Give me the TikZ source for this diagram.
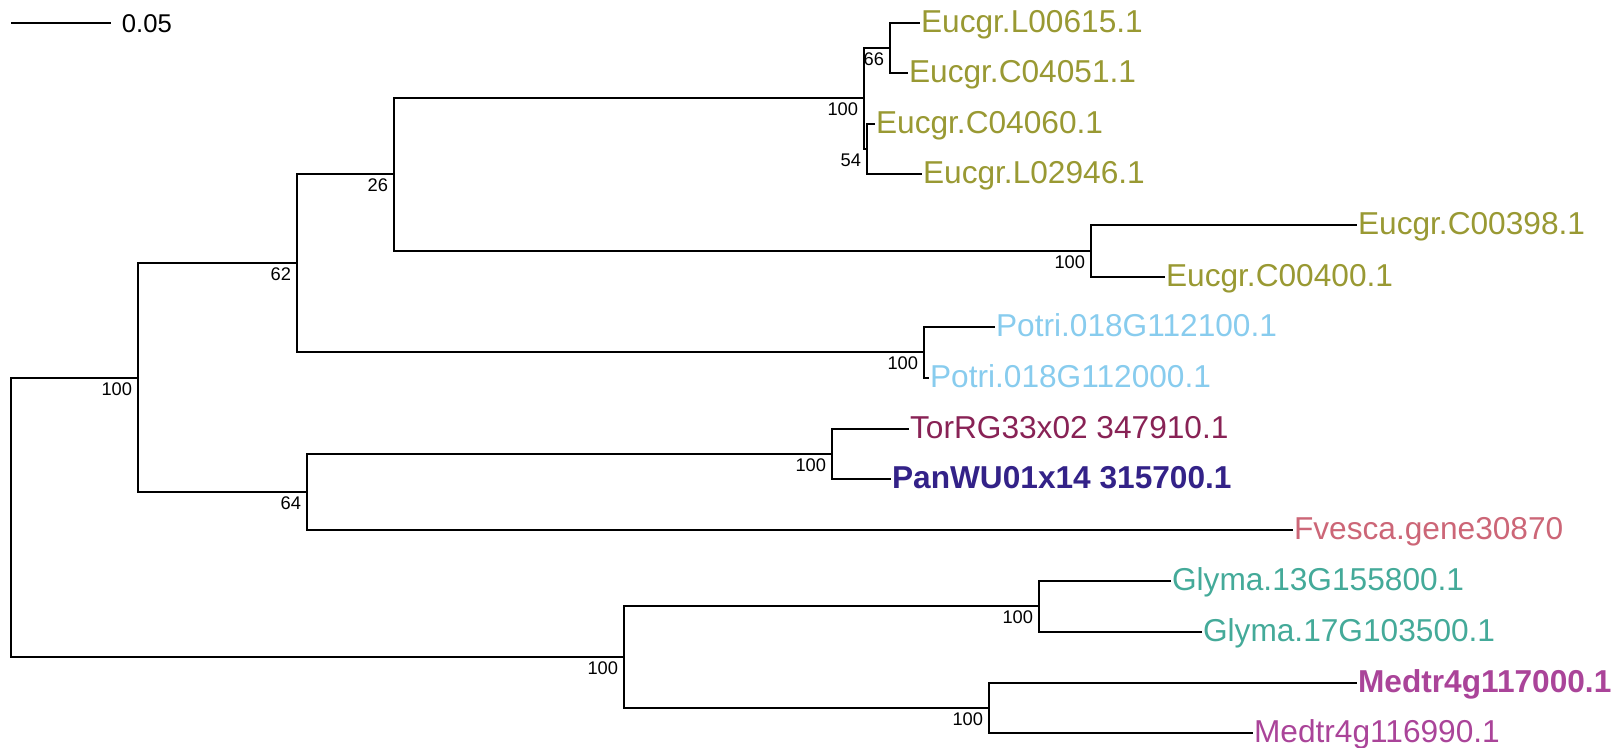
\documentclass[tikz,border=0pt]{standalone}
\usepackage{fontspec}
\setmainfont{Liberation Sans}
\usetikzlibrary{positioning}
\definecolor{eucol}{HTML}{999933}
\definecolor{pocol}{HTML}{88CCEE}
\definecolor{tocol}{HTML}{882255}
\definecolor{pacol}{HTML}{332288}
\definecolor{fvcol}{HTML}{CC6677}
\definecolor{glcol}{HTML}{44AA99}
\definecolor{mecol}{HTML}{AA4499}
\begin{document}
\begin{tikzpicture}[
  x=0.01cm, y=-0.01cm, line width=0.6pt,
  leaf/.style={anchor=west,inner sep=0pt,text height=5.3pt,text depth=0pt,font=\fontsize{9}{10}\selectfont},
  supp/.style={anchor=north east,inner sep=0pt,text height=3.7pt,text depth=0pt,xshift=-1.4pt,yshift=-1pt,font=\fontsize{5.2}{6}\selectfont}
]
\useasboundingbox (0,0) rectangle (1620,748);
\coordinate (s0) at (11,23);
\coordinate (s1) at (111,23);
\draw (s0) -- (s1);
\node[right=2.8pt of s1,inner sep=0pt,text height=5.2pt,text depth=0pt,font=\fontsize{7.3}{8}\selectfont] (sl) {0.05};

\coordinate (r) at (11,517);
\coordinate (a) at (138,378);
\coordinate (b) at (297,263);
\coordinate (c) at (394,174);
\coordinate (d) at (864,98);
\coordinate (e) at (890,48);
\coordinate (f) at (867,149);
\coordinate (g) at (1091,251);
\coordinate (h) at (924,352);
\coordinate (i) at (307,492);
\coordinate (j) at (832,454);
\coordinate (k) at (624,657);
\coordinate (l) at (1039,606);
\coordinate (m) at (989,708);

\node[leaf,eucol] (t1) at (920,23) {Eucgr.L00615.1};
\node[leaf,eucol] (t2) at (908,73) {Eucgr.C04051.1};
\node[leaf,eucol] (t3) at (875,124) {Eucgr.C04060.1};
\node[leaf,eucol] (t4) at (922,174) {Eucgr.L02946.1};
\node[leaf,eucol] (t5) at (1357,225) {Eucgr.C00398.1};
\node[leaf,eucol] (t6) at (1165,277) {Eucgr.C00400.1};
\node[leaf,pocol] (t7) at (995,327) {Potri.018G112100.1};
\node[leaf,pocol] (t8) at (929,378) {Potri.018G112000.1};
\node[leaf,tocol] (t9) at (909,429) {TorRG33x02 347910.1};
\node[leaf,pacol,font=\fontsize{9}{10}\selectfont\bfseries] (t10) at (891,479) {PanWU01x14 315700.1};
\node[leaf,fvcol] (t11) at (1293,530) {Fvesca.gene30870};
\node[leaf,glcol] (t12) at (1171,581) {Glyma.13G155800.1};
\node[leaf,glcol] (t13) at (1202,632) {Glyma.17G103500.1};
\node[leaf,mecol,font=\fontsize{9}{10}\selectfont\bfseries] (t14) at (1357,683) {Medtr4g117000.1};
\node[leaf,mecol] (t15) at (1253,733) {Medtr4g116990.1};

\draw (r) |- (a); \draw (r) |- (k);
\draw (a) |- (b); \draw (a) |- (i);
\draw (b) |- (c); \draw (b) |- (h);
\draw (c) |- (d); \draw (c) |- (g);
\draw (d) |- (e); \draw (d) |- (f);
\draw (e) |- (t1.west); \draw (e) |- (t2.west);
\draw (f) |- (t3.west); \draw (f) |- (t4.west);
\draw (g) |- (t5.west); \draw (g) |- (t6.west);
\draw (h) |- (t7.west); \draw (h) |- (t8.west);
\draw (i) |- (j); \draw (i) |- (t11.west);
\draw (j) |- (t9.west); \draw (j) |- (t10.west);
\draw (k) |- (l); \draw (k) |- (m);
\draw (l) |- (t12.west); \draw (l) |- (t13.west);
\draw (m) |- (t14.west); \draw (m) |- (t15.west);

\node[supp] (sa) at (a) {100};
\node[supp] (sb) at (b) {62};
\node[supp] (sc) at (c) {26};
\node[supp] (sd) at (d) {100};
\node[supp] (se) at (e) {66};
\node[supp] (sf) at (f) {54};
\node[supp] (sg) at (g) {100};
\node[supp] (sh) at (h) {100};
\node[supp] (si) at (i) {64};
\node[supp] (sj) at (j) {100};
\node[supp] (sk) at (k) {100};
\node[supp] (sl2) at (l) {100};
\node[supp] (sm) at (m) {100};
\end{tikzpicture}
\end{document}
